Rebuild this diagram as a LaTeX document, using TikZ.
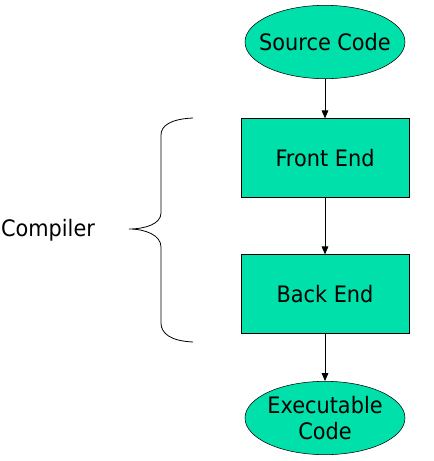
\documentclass[tikz,border=0pt]{standalone}
\usepackage{fontspec}
\setmainfont{DejaVu Sans}[FakeStretch=0.92]
\usetikzlibrary{shapes.geometric,arrows.meta}

\definecolor{stagegreen}{HTML}{00E0AA}

\begin{document}
\begin{tikzpicture}[x=0.75pt,y=-0.75pt,
    every node/.style={font=\fontsize{17}{20}\selectfont},
    codeshape/.style={ellipse,fill=stagegreen,draw,inner xsep=-14pt,inner ysep=0pt,minimum width=120pt,minimum height=55pt,align=center},
    stagebox/.style={rectangle,fill=stagegreen,draw,inner sep=0pt,minimum width=126pt,minimum height=59pt},
    flow/.style={-{Triangle[length=6pt,width=5pt]},line width=0.6pt}]
      \useasboundingbox (0,0) rectangle (433,461);
      \draw
        (325, 42) node[codeshape] (src){Source Code}
        (325, 158) node[stagebox] (front){Front End}
        (325, 294) node[stagebox] (back){Back End}
        (325, 418) node[codeshape] (exe){Executable\\Code}
        (48, 230) node[] (comp){Compiler};
      \begin{scope}[flow]
        \draw (src) to (front);
        \draw (front) to (back);
        \draw (back) to (exe);
      \end{scope}
      % brace round the two stages
      \draw[line width=0.6pt] (193,118) .. controls (170,119) and (161,126) .. (161,135)
        -- (161,213) .. controls (161,224) and (145,229) .. (129,229)
        .. controls (145,229) and (161,235) .. (161,247)
        -- (161,323) .. controls (161,333) and (170,341) .. (193,342);
    \end{tikzpicture}
\end{document}
